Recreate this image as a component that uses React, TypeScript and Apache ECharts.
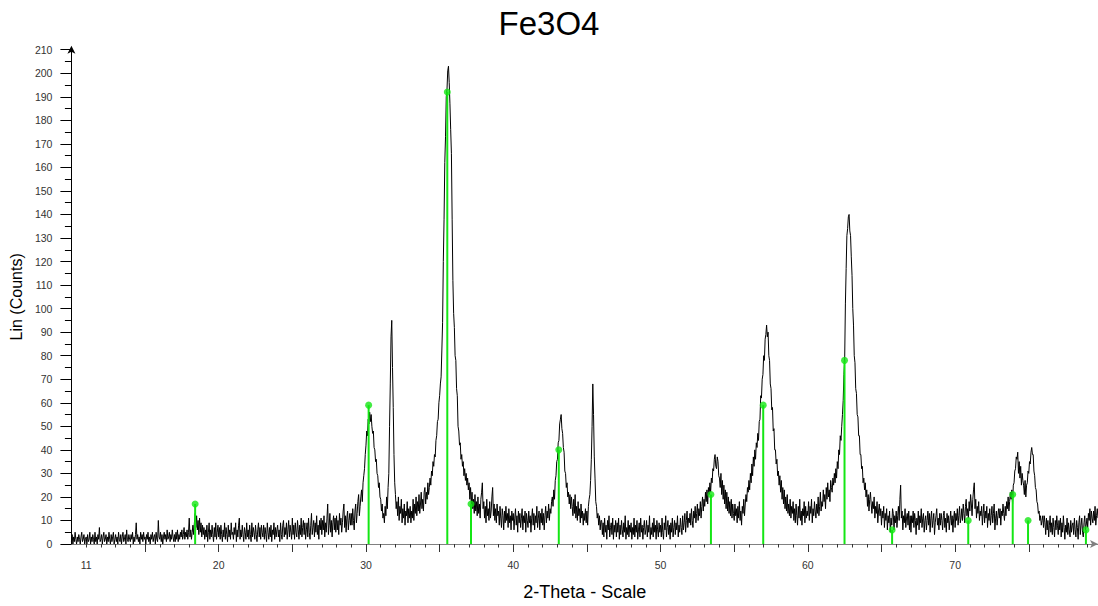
import React, { useEffect, useRef } from "react";
import * as echarts from "echarts";

// Diffractogram sampled every 0.05 deg 2-Theta, starting at 10.00
const X_START = 10.0;
const X_STEP = 0.05;

// 10.00 - 19.95
const counts10 = [
  1, 4, 0, 3, 1, 5, 2, 0, 3, 1, 4, 2, 0, 3, 5, 1, 2, 4, 0, 2,
  3, 0, 4, 1, 2, 5, 0, 3, 1, 4, 2, 0, 5, 1, 3, 0, 4, 2, 7, 1,
  2, 4, 0, 3, 5, 1, 2, 4, 0, 3, 1, 5, 2, 0, 4, 1, 3, 5, 0, 2,
  4, 1, 3, 0, 5, 2, 1, 4, 0, 3, 5, 1, 2, 4, 0, 6, 2, 1, 4, 2,
  1, 4, 2, 5, 0, 3, 1, 4, 9, 2, 4, 1, 3, 0, 5, 2, 4, 1, 5, 2,
  3, 0, 4, 2, 5, 1, 3, 0, 4, 2, 5, 1, 3, 4, 0, 5, 2, 1, 10, 3,
  2, 5, 1, 4, 0, 3, 5, 2, 4, 1, 6, 2, 3, 5, 1, 4, 2, 6, 3, 1,
  4, 1, 5, 2, 6, 1, 4, 2, 5, 3, 6, 2, 4, 7, 2, 5, 3, 6, 2, 5,
  11, 3, 6, 2, 5, 8, 4, 9, 13, 7, 12, 6, 10, 4, 11, 5, 9, 3, 8, 4,
  7, 2, 6, 3, 8, 1, 5, 9, 2, 6, 3, 8, 4, 1, 7, 3, 9, 2, 5, 8,
];
// 20.00 - 29.95
const counts20 = [
  3, 7, 2, 8, 4, 1, 6, 3, 9, 2, 7, 4, 1, 8, 3, 6, 2, 9, 4, 5,
  2, 7, 4, 9, 1, 6, 3, 8, 11, 2, 6, 3, 8, 4, 1, 7, 5, 2, 9, 3,
  6, 2, 8, 4, 1, 9, 3, 7, 5, 2, 8, 4, 1, 6, 9, 3, 7, 2, 8, 5,
  3, 8, 2, 7, 4, 1, 9, 5, 2, 7, 3, 8, 1, 6, 4, 9, 2, 7, 3, 6,
  8, 3, 6, 1, 9, 4, 2, 8, 10, 3, 7, 4, 9, 2, 6, 10, 3, 8, 5, 2,
  11, 4, 8, 2, 9, 5, 3, 10, 6, 2, 8, 4, 11, 3, 7, 10, 4, 9, 2, 6,
  9, 3, 11, 5, 2, 8, 13, 4, 7, 10, 3, 9, 5, 12, 4, 8, 2, 10, 6, 11,
  4, 10, 6, 12, 3, 9, 5, 11, 17, 4, 8, 13, 5, 10, 3, 9, 12, 6, 11, 5,
  12, 6, 10, 4, 13, 8, 11, 5, 9, 14, 17, 7, 12, 5, 11, 14, 6, 10, 13, 8,
  13, 8, 15, 10, 6, 14, 17, 9, 13, 18, 21, 12, 16, 20, 23, 18, 26, 29, 32, 38,
];
// 30.00 - 39.95
const counts30 = [
  42, 48, 46, 53, 51, 56, 52, 55, 50, 47, 48, 41, 40, 35, 36, 30, 29, 24, 26, 20,
  19, 14, 17, 11, 13, 9, 16, 12, 20, 15, 24, 30, 50, 68, 88, 95, 75, 58, 38, 26,
  21, 15, 18, 12, 20, 10, 16, 13, 19, 9, 15, 11, 17, 8, 14, 12, 18, 9, 15, 11,
  16, 9, 14, 11, 19, 10, 17, 13, 20, 12, 18, 14, 21, 13, 17, 22, 15, 19, 14, 22,
  24, 17, 22, 19, 26, 21, 24, 28, 25, 31, 29, 35, 33, 38, 37, 44, 46, 52, 53, 60,
  63, 68, 71, 82, 94, 120, 138, 162, 173, 190, 193, 201, 203, 196, 187, 176, 166, 138, 112, 98,
  92, 80, 78, 66, 63, 50, 48, 42, 43, 36, 38, 33, 35, 29, 32, 27, 30, 25, 28, 23,
  26, 19, 24, 17, 22, 15, 19, 13, 21, 14, 18, 12, 20, 13, 17, 11, 19, 22, 26, 15,
  18, 11, 16, 9, 19, 12, 15, 10, 18, 11, 14, 20, 24, 12, 17, 10, 15, 9, 17, 12,
  14, 8, 16, 11, 7, 15, 12, 6, 14, 9, 16, 10, 13, 7, 15, 9, 12, 6, 14, 10,
];
// 40.00 - 49.95
const counts40 = [
  13, 6, 11, 15, 8, 12, 5, 14, 9, 13, 7, 11, 15, 6, 12, 9, 14, 5, 13, 10,
  7, 14, 9, 12, 5, 11, 15, 8, 13, 6, 12, 9, 16, 7, 11, 14, 6, 13, 9, 15,
  8, 13, 6, 12, 16, 9, 14, 11, 17, 10, 15, 13, 18, 20, 16, 23, 19, 27, 29, 35,
  36, 43, 44, 51, 53, 55, 49, 47, 41, 39, 31, 30, 24, 26, 20, 22, 17, 21, 15, 20,
  16, 12, 19, 13, 21, 11, 16, 10, 18, 12, 15, 9, 17, 11, 14, 8, 13, 10, 15, 9,
  14, 8, 16, 19, 21, 27, 36, 50, 68, 55, 37, 28, 18, 16, 11, 13, 8, 12, 6, 10,
  10, 4, 9, 3, 11, 5, 8, 2, 10, 6, 12, 3, 7, 9, 4, 11, 2, 8, 5, 10,
  3, 9, 5, 11, 2, 8, 4, 10, 6, 3, 9, 5, 12, 2, 7, 4, 10, 3, 8, 5,
  9, 2, 7, 4, 11, 3, 8, 5, 10, 2, 6, 9, 3, 11, 5, 8, 2, 7, 10, 4,
  6, 10, 3, 8, 5, 12, 2, 7, 4, 9, 3, 11, 5, 8, 2, 10, 6, 3, 9, 5,
];
// 50.00 - 59.95
const counts50 = [
  8, 3, 11, 5, 2, 9, 6, 12, 3, 7, 10, 4, 8, 2, 9, 5, 11, 3, 7, 10,
  4, 9, 6, 12, 3, 8, 5, 11, 7, 4, 12, 6, 9, 13, 5, 10, 14, 7, 11, 9,
  13, 8, 15, 10, 7, 14, 11, 16, 9, 13, 17, 10, 15, 12, 18, 11, 16, 20, 14, 19,
  16, 22, 18, 23, 17, 24, 21, 26, 22, 28, 26, 32, 31, 36, 38, 33, 32, 37, 35, 29,
  28, 24, 30, 21, 27, 19, 25, 17, 23, 15, 22, 14, 20, 13, 18, 12, 19, 11, 17, 13,
  10, 17, 12, 15, 9, 16, 11, 18, 10, 14, 8, 16, 13, 19, 12, 17, 21, 18, 24, 22,
  27, 23, 30, 26, 34, 29, 37, 33, 40, 36, 43, 41, 47, 44, 52, 53, 63, 62, 70, 72,
  80, 78, 87, 89, 93, 88, 90, 80, 78, 68, 66, 57, 58, 48, 49, 40, 40, 34, 36, 29,
  31, 25, 29, 22, 27, 19, 24, 17, 23, 15, 20, 14, 21, 13, 17, 12, 19, 11, 16, 13,
  18, 10, 15, 9, 17, 12, 8, 16, 11, 19, 10, 14, 8, 15, 12, 18, 9, 16, 11, 14,
];
// 60.00 - 69.95
const counts60 = [
  12, 18, 10, 16, 13, 19, 9, 15, 12, 18, 14, 11, 17, 13, 20, 12, 16, 22, 14, 18,
  16, 23, 18, 21, 15, 24, 19, 26, 20, 23, 18, 27, 24, 22, 28, 25, 30, 26, 32, 28,
  35, 32, 40, 38, 46, 44, 50, 55, 61, 72, 78, 102, 117, 131, 134, 139, 140, 133, 131, 122,
  114, 100, 93, 80, 77, 66, 64, 55, 54, 46, 46, 38, 38, 32, 33, 26, 28, 23, 26, 20,
  23, 16, 21, 14, 19, 22, 17, 13, 18, 15, 20, 11, 16, 13, 18, 9, 14, 17, 12, 15,
  8, 14, 11, 16, 7, 13, 10, 15, 6, 12, 9, 14, 5, 11, 8, 15, 13, 6, 12, 9,
  14, 7, 12, 16, 10, 19, 25, 11, 14, 6, 12, 9, 15, 7, 11, 13, 8, 14, 6, 12,
  5, 12, 9, 14, 7, 13, 10, 4, 11, 8, 14, 6, 12, 9, 15, 7, 11, 13, 5, 10,
  12, 6, 10, 14, 8, 13, 5, 11, 14, 7, 10, 13, 4, 9, 12, 15, 8, 11, 6, 13,
  8, 13, 10, 6, 12, 14, 7, 11, 5, 13, 9, 12, 6, 10, 14, 8, 12, 5, 11, 14,
];
// 70.00 - 79.70
const counts70 = [
  7, 13, 10, 15, 8, 12, 16, 9, 11, 15, 10, 17, 13, 9, 16, 19, 12, 15, 11, 18,
  14, 21, 17, 12, 19, 23, 26, 15, 19, 11, 16, 13, 18, 10, 14, 12, 16, 8, 13, 17,
  9, 14, 11, 16, 7, 13, 10, 15, 8, 12, 16, 9, 13, 17, 6, 11, 14, 8, 12, 15,
  11, 15, 8, 14, 12, 17, 13, 10, 16, 12, 18, 15, 20, 14, 18, 22, 19, 23, 17, 25,
  26, 31, 32, 37, 36, 39, 30, 35, 28, 33, 25, 30, 27, 25, 21, 27, 20, 25, 26, 31,
  30, 35, 34, 39, 41, 38, 38, 31, 29, 24, 23, 18, 17, 13, 14, 10, 12, 8, 10, 12,
  7, 12, 9, 4, 11, 6, 10, 3, 8, 12, 5, 9, 4, 11, 7, 3, 10, 6, 12, 8,
  4, 10, 6, 11, 3, 9, 5, 12, 7, 2, 8, 5, 11, 4, 9, 6, 3, 10, 5, 8,
  9, 4, 11, 6, 3, 10, 7, 2, 9, 12, 4, 8, 11, 5, 3, 9, 12, 6, 8, 11,
  7, 13, 10, 15, 8, 14, 11, 9, 14, 10, 16, 8, 12, 15, 11,
];

// Reference (Fe3O4) stick pattern
const refPos = [18.4, 30.18, 35.52, 37.13, 43.09, 53.42, 56.97, 62.49, 65.72, 70.89, 73.91, 74.95, 78.88];
const refInt = [17, 59, 192, 17, 40, 21, 59, 78, 6, 10, 21, 10, 6];

// Axis ticks / labels
const xLabelValues = [11, 20, 30, 40, 50, 60, 70];
const xMinorTicks = [11, 12, 13, 14, 16, 17, 18, 19, 21, 22, 23, 24, 26, 27, 28, 29, 31, 32, 33, 34, 36, 37, 38, 39, 41, 42, 43, 44, 46, 47, 48, 49, 51, 52, 53, 54, 56, 57, 58, 59, 61, 62, 63, 64, 66, 67, 68, 69, 71, 72, 73, 74, 76, 77, 78, 79];
const xMajorTicks = [15, 20, 25, 30, 35, 40, 45, 50, 55, 60, 65, 70, 75];

const FONT = "'Liberation Sans', Arial, Helvetica, sans-serif";
const GREEN = "#14e614";

export default function App() {
  const ref = useRef<HTMLDivElement>(null);
  useEffect(() => {
    if (!ref.current) return;
    const chart = echarts.init(ref.current, null, { renderer: "svg" });
    const counts = [...counts10, ...counts20, ...counts30, ...counts40, ...counts50, ...counts60, ...counts70];
    const lineData = counts.map((v, i) => [Math.round((X_START + i * X_STEP) * 100) / 100, v]);
    const stickData = refPos.map((p, i) => [p, refInt[i]]);
    const xMin = 10;
    const xMax = 79.7;
    chart.setOption({
      animation: false,
      backgroundColor: "#fff",
      title: {
        text: "Fe3O4",
        left: "center",
        top: 2,
        textStyle: { fontFamily: FONT, fontSize: 33, fontWeight: "normal", color: "#000" },
      },
      grid: { left: 68, right: 0, top: 49.7, bottom: 54, containLabel: false },
      xAxis: [
        {
          type: "value",
          min: xMin,
          max: xMax,
          interval: 1,
          position: "bottom",
          axisLine: {
            show: true,
            lineStyle: { color: "#808080", width: 1 },
            symbol: ["none", "arrow"],
            symbolSize: [6, 8],
          },
          axisTick: { show: true, length: 3.5, customValues: xMinorTicks, lineStyle: { color: "#333" } },
          axisLabel: {
            show: true,
            customValues: xLabelValues,
            margin: 15,
            fontSize: 10.5,
            color: "#333",
            fontFamily: FONT,
          },
          splitLine: { show: false },
          name: "2-Theta - Scale",
          nameLocation: "middle",
          nameGap: 39,
          nameTextStyle: { fontFamily: FONT, fontSize: 18, color: "#000" },
        },
        {
          type: "value",
          min: xMin,
          max: xMax,
          interval: 5,
          position: "bottom",
          axisLine: { show: false },
          axisTick: { show: true, length: 8, customValues: xMajorTicks, lineStyle: { color: "#333" } },
          axisLabel: { show: false },
          splitLine: { show: false },
        },
      ],
      yAxis: {
        type: "value",
        min: 0,
        max: 210,
        interval: 10,
        axisLine: {
          show: true,
          lineStyle: { color: "#000", width: 1 },
          symbol: ["none", "arrow"],
          symbolSize: [6, 8],
          symbolOffset: [0, 4],
        },
        axisTick: { show: true, length: 11, lineStyle: { color: "#000" } },
        minorTick: { show: true, splitNumber: 2, length: 6.5, lineStyle: { color: "#000" } },
        axisLabel: { margin: 19, fontSize: 10.5, color: "#333", fontFamily: FONT },
        splitLine: { show: false },
        name: "Lin (Counts)",
        nameLocation: "middle",
        nameGap: 43,
        nameTextStyle: { fontFamily: FONT, fontSize: 16, color: "#000" },
      },
      series: [
        {
          type: "line",
          xAxisIndex: 0,
          data: lineData,
          showSymbol: false,
          symbol: "none",
          lineStyle: { color: "#000", width: 1 },
          z: 2,
          silent: true,
        },
        {
          type: "bar",
          xAxisIndex: 0,
          data: stickData,
          barWidth: 2,
          itemStyle: { color: GREEN },
          z: 3,
          silent: true,
        },
        {
          type: "scatter",
          xAxisIndex: 0,
          data: stickData,
          symbol: "circle",
          symbolSize: 7,
          itemStyle: { color: GREEN },
          z: 4,
          silent: true,
        },
      ],
    });
    return () => chart.dispose();
  }, []);
  return (
    <div
      ref={ref}
      style={{ position: "fixed", left: 0, top: 0, width: 1098, height: 606, background: "#fff" }}
    />
  );
}
